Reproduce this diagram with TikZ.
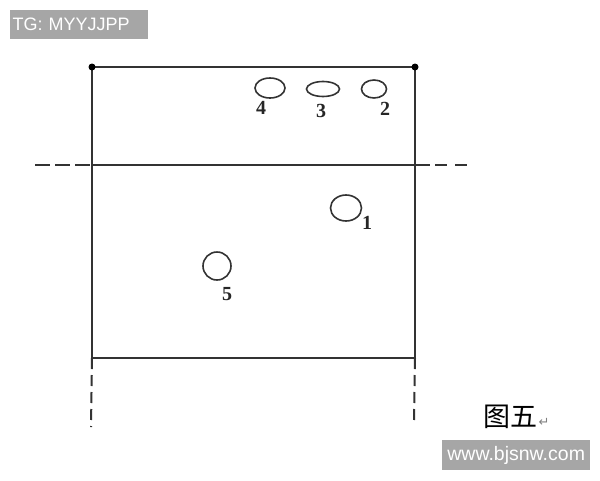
\documentclass[tikz,border=0pt]{standalone}
\usepackage{fontspec}
\setmainfont{Liberation Serif}
\newfontfamily\wmfont{Liberation Sans}
\newfontfamily\cjk{Noto Sans CJK SC}
\newfontfamily\symfont{DejaVu Sans}
\begin{document}
\begin{tikzpicture}[x=1pt,y=-1pt,
  ln/.style={draw=black!80,line width=2pt},
  dsh/.style={draw=black!80,line width=2pt,dash pattern=on 15pt off 5pt},
  vdsh/.style={draw=black!80,line width=2pt,dash pattern=on 11pt off 6pt},
  hole/.style={draw=black!80,line width=1.6pt},
  num/.style={font=\bfseries\fontsize{20}{20}\selectfont,text=black!85,inner sep=0pt},
  wm/.style={fill=black!35,text=white,font=\wmfont\fontsize{18}{18}\selectfont,inner sep=0pt}]
\useasboundingbox (0,0) rectangle (600,480);
% watermark top-left
\node[wm,minimum width=138pt,minimum height=29pt,anchor=north west,align=left,text width=133pt] (tg) at (10,10) {TG: MYYJJPP};
% frame coordinates
\coordinate (tl) at (92,67);
\coordinate (tr) at (415,67);
\coordinate (ml) at (92,165);
\coordinate (mr) at (415,165);
\coordinate (bl) at (92,358);
\coordinate (br) at (415,358);
\coordinate (dl) at (35,165);
\coordinate (mr2) at (430,165);
\coordinate (dr2) at (435,165);
\coordinate (dr) at (470,165);
\coordinate (ll) at (91,427);
\coordinate (lr) at (414,424);
\draw[ln] (bl) -- (tl) -- (tr) -- (br) -- cycle;
\draw[ln] (ml) -- (mr2);
\draw[dsh] (dl) -- (ml);
\draw[draw=black!80,line width=2pt,dash pattern=on 12pt off 8pt] (dr2) -- (dr);
\draw[vdsh] (bl) -- (ll);
\draw[vdsh] (br) -- (lr);
\fill[black] (tl) circle (3.5pt);
\fill[black] (tr) circle (3.5pt);
% holes
\draw[hole] (270,88) ellipse [x radius=15, y radius=10];
\draw[hole] (323,89) ellipse [x radius=16.5, y radius=7.5];
\draw[hole] (374,89) ellipse [x radius=12.5, y radius=9];
\draw[hole] (346,208) ellipse [x radius=15.5, y radius=13];
\draw[hole] (217,266) ellipse [x radius=14, y radius=14];
\node[num] (n4) at (261,108) {4};
\node[num] (n3) at (321,111) {3};
\node[num] (n2) at (385,109) {2};
\node[num] (n1) at (367,223) {1};
\node[num] (n5) at (227,294) {5};
% caption
\node[font=\cjk\fontsize{27}{27}\selectfont,inner sep=0pt] (cap) at (510,417) {图五};
\node[font=\symfont\fontsize{13}{13}\selectfont,text=black!50,inner sep=0pt] (ret) at (544,422) {↵};
% watermark bottom-right
\node[wm,font=\wmfont\fontsize{19.5}{19.5}\selectfont,minimum width=148pt,minimum height=30pt,anchor=north west,align=center] (web) at (442,440) {www.bjsnw.com};
\end{tikzpicture}
\end{document}
